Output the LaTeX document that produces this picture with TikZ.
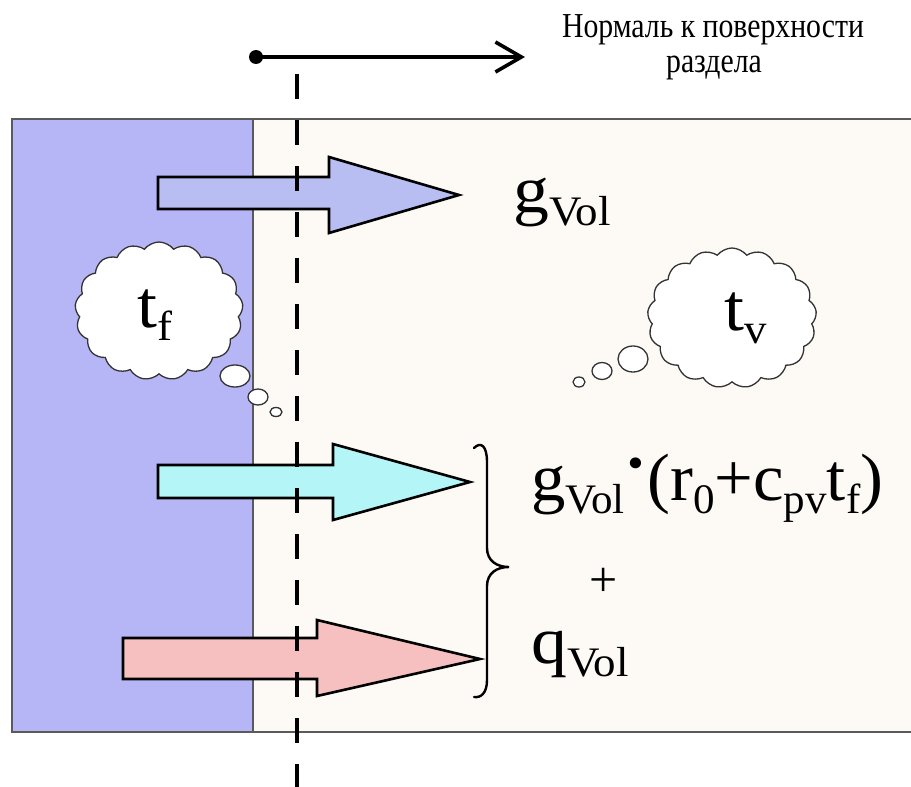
\documentclass[tikz,border=0pt]{standalone}
\usepackage{fontspec}
\setmainfont{Liberation Serif}
\usetikzlibrary{shapes.symbols,shapes.geometric,arrows.meta}
\definecolor{phaseL}{RGB}{182,182,246}
\definecolor{phaseV}{RGB}{253,249,245}
\definecolor{arrA}{RGB}{185,190,242}
\definecolor{arrB}{RGB}{180,246,248}
\definecolor{arrC}{RGB}{247,192,192}
\definecolor{frame}{RGB}{90,90,90}
\newcommand\sbs[1]{\raisebox{-0.2em}{\fontsize{42}{42}\selectfont #1}}
\newcommand\wid[1]{\scalebox{1.07}[1]{#1}}
\newcommand\mdot{\raisebox{0.22em}{\textbf{·}}}
\begin{document}
\begin{tikzpicture}[x=1pt,y=-1pt,
  fatarrow/.style={draw=black,line width=2.6pt,line join=miter},
  thought/.style={cloud,draw=black!80,fill=white,line width=1.3pt,cloud puffs=17,cloud puff arc=105},
  bubble/.style={ellipse,draw=black!80,fill=white,line width=1.3pt,inner sep=0pt},
  bigtxt/.style={font=\fontsize{67}{67}\selectfont,inner sep=0pt},
  small/.style={font=\fontsize{35}{35}\selectfont,inner sep=0pt}]
\useasboundingbox (0,0) rectangle (911,787);
\fill[white] (0,0) rectangle (911,787);
% phases
\fill[phaseV] (12,119) rectangle (911,732);
\fill[phaseL] (12,119) rectangle (253,732);
\draw[frame,line width=1.2pt] (253,119) -- (253,732);
\draw[frame,line width=2.2pt] (911,119) -- (12,119) -- (12,732) -- (911,732);
% normal arrow
\coordinate (n0) at (256,57);
\coordinate (n1) at (525,57);
\fill[black] (n0) circle (7);
\draw[line width=3.4pt,-{Straight Barb[length=26pt,width=30pt,line width=3.6pt]}] (n0) -- (n1);
\node[small,anchor=base] (lbl1) at (713,37) {\scalebox{0.85}[1]{Нормаль к поверхности}};
\node[small,anchor=base] (lbl2) at (714,72) {\scalebox{0.85}[1]{раздела}};
% arrows
\filldraw[fill=arrA,fatarrow] (158,177) -- (329,177) -- (329,157) -- (459,195) -- (329,233) -- (329,209) -- (158,209) -- cycle;
\filldraw[fill=arrB,fatarrow] (158,465) -- (333,465) -- (333,444) -- (470,482) -- (333,520) -- (333,498) -- (158,498) -- cycle;
\filldraw[fill=arrC,fatarrow] (123,638) -- (317,638) -- (317,620) -- (480,659) -- (317,696) -- (317,679) -- (123,679) -- cycle;
% dashed interface
\coordinate (d0) at (297,74);
\coordinate (d1) at (297,787);
\draw[line width=4pt,dash pattern=on 25pt off 21pt] (d0) -- (d1);
% clouds
\node[thought,aspect=1.25,minimum width=168pt,minimum height=138pt] (cf) at (159,311) {};
\node[bigtxt,anchor=base west] (tf) at (137,327) {\wid{t\sbs{f}}};
\node[bubble,minimum width=30pt,minimum height=22pt] (bf1) at (235,376) {};
\node[bubble,minimum width=20pt,minimum height=16pt] (bf2) at (258,397) {};
\node[bubble,minimum width=12pt,minimum height=9pt] (bf3) at (276,412) {};
\node[thought,aspect=1.2,minimum width=169pt,minimum height=140pt] (cv) at (732,318) {};
\node[bigtxt,anchor=base west] (tv) at (724,330) {\wid{t\sbs{v}}};
\node[bubble,minimum width=30pt,minimum height=26pt] (bv1) at (633,359) {};
\node[bubble,minimum width=20pt,minimum height=17pt] (bv2) at (602,371) {};
\node[bubble,minimum width=12pt,minimum height=10pt] (bv3) at (579,382) {};
% labels
\node[bigtxt,anchor=base west] (gv) at (513,212) {\wid{g\sbs{Vol}}};
\node[bigtxt,anchor=base west] (ge) at (531,500) {\scalebox{1.025}[1]{g\sbs{Vol}\mdot(r\sbs{0}+c\sbs{pv}t\sbs{f})}};
\node[font=\fontsize{50}{50}\selectfont,inner sep=0pt] (pl) at (604,582) {+};
\node[bigtxt,anchor=base west] (qv) at (531,663) {\wid{q\sbs{Vol}}};
% brace
\coordinate (b0) at (474,448);
\coordinate (bm) at (509,567);
\coordinate (b1) at (474,697);
\draw[line width=2.4pt,line cap=round] (b0) .. controls (481,441) and (487,446) .. (487,462)
  -- (487,548) .. controls (487,561) and (497,567) .. (bm)
  .. controls (497,567) and (487,573) .. (487,586)
  -- (487,680) .. controls (487,693) and (481,698) .. (b1);
\end{tikzpicture}
\end{document}
